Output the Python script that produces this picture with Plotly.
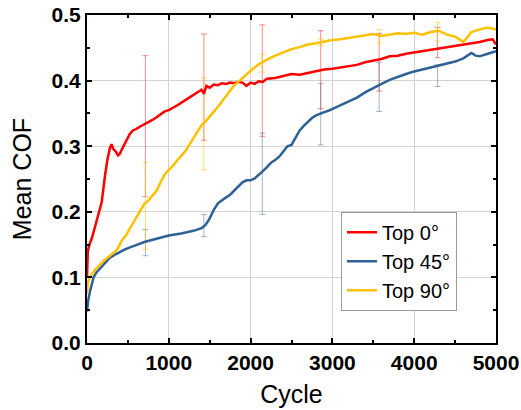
import plotly.graph_objects as go

# ---- data ----
red_x = [0, 10, 30, 60, 100, 140, 180, 220, 250, 280, 300, 320, 350, 380, 400, 430, 470, 520, 560, 600,
         650, 700, 750, 800, 850, 900, 950, 1000, 1050, 1100, 1150, 1200, 1250, 1300, 1350, 1400, 1430,
         1460, 1500, 1550, 1600, 1650, 1700, 1750, 1800, 1850, 1900, 1950, 2000, 2050, 2100, 2150, 2200,
         2300, 2400, 2500, 2600, 2700, 2800, 2900, 3000, 3100, 3200, 3300, 3400, 3500, 3600, 3700, 3800,
         3900, 4000, 4100, 4200, 4300, 4400, 4500, 4600, 4700, 4800, 4900, 4960, 5000]
red_y = [0.100, 0.140, 0.150, 0.160, 0.178, 0.195, 0.215, 0.255, 0.280, 0.297, 0.303, 0.296, 0.292, 0.286,
         0.288, 0.296, 0.307, 0.318, 0.324, 0.326, 0.330, 0.333, 0.336, 0.340, 0.344, 0.349, 0.353, 0.355,
         0.358, 0.362, 0.366, 0.370, 0.374, 0.379, 0.383, 0.386, 0.380, 0.392, 0.389, 0.394, 0.393, 0.396,
         0.395, 0.397, 0.396, 0.398, 0.397, 0.392, 0.397, 0.395, 0.399, 0.398, 0.403, 0.404, 0.407, 0.410,
         0.409, 0.412, 0.414, 0.417, 0.418, 0.420, 0.422, 0.424, 0.428, 0.430, 0.433, 0.437, 0.438, 0.441,
         0.443, 0.445, 0.446, 0.448, 0.451, 0.452, 0.454, 0.456, 0.459, 0.462, 0.463, 0.455]

blue_x = [0, 15, 37, 60, 80, 118, 200, 280, 362, 450, 550, 700, 850, 1000, 1150, 1300, 1400, 1450, 1500,
          1550, 1600, 1650, 1700, 1750, 1800, 1850, 1900, 1950, 2000, 2050, 2100, 2150, 2200, 2250, 2300,
          2350, 2400, 2450, 2500, 2550, 2600, 2650, 2700, 2750, 2800, 2850, 2900, 2950, 3000, 3100, 3200,
          3300, 3400, 3500, 3600, 3700, 3800, 3900, 4000, 4100, 4200, 4300, 4400, 4500, 4600, 4700, 4750,
          4800, 4900, 5000]
blue_y = [0.048, 0.065, 0.079, 0.092, 0.100, 0.108, 0.120, 0.130, 0.136, 0.142, 0.147, 0.154, 0.159, 0.164,
          0.167, 0.171, 0.175, 0.180, 0.190, 0.203, 0.213, 0.218, 0.222, 0.226, 0.232, 0.238, 0.245, 0.248,
          0.248, 0.251, 0.256, 0.262, 0.268, 0.275, 0.279, 0.284, 0.292, 0.300, 0.302, 0.314, 0.324, 0.331,
          0.337, 0.343, 0.347, 0.350, 0.352, 0.354, 0.357, 0.362, 0.368, 0.374, 0.382, 0.389, 0.395, 0.401,
          0.406, 0.410, 0.414, 0.417, 0.421, 0.424, 0.426, 0.429, 0.434, 0.442, 0.438, 0.437, 0.441, 0.445]

yellow_x = [0, 10, 50, 100, 150, 200, 250, 300, 360, 380, 420, 480, 540, 600, 650, 700, 750, 800, 850, 900,
            950, 1000, 1050, 1100, 1150, 1200, 1250, 1300, 1350, 1400, 1450, 1500, 1550, 1600, 1650, 1700,
            1750, 1800, 1850, 1900, 1950, 2000, 2050, 2100, 2150, 2200, 2300, 2400, 2500, 2600, 2700, 2800,
            2900, 3000, 3100, 3200, 3300, 3400, 3500, 3600, 3700, 3800, 3900, 4000, 4100, 4200, 4300, 4400,
            4500, 4550, 4600, 4650, 4700, 4800, 4900, 5000]
yellow_y = [0.075, 0.093, 0.103, 0.112, 0.118, 0.125, 0.130, 0.135, 0.141, 0.145, 0.155, 0.165, 0.178, 0.192,
            0.203, 0.212, 0.217, 0.225, 0.232, 0.245, 0.257, 0.264, 0.270, 0.278, 0.285, 0.292, 0.302, 0.312,
            0.322, 0.332, 0.338, 0.345, 0.352, 0.360, 0.368, 0.377, 0.385, 0.393, 0.398, 0.404, 0.410, 0.415,
            0.420, 0.425, 0.428, 0.432, 0.438, 0.443, 0.448, 0.451, 0.455, 0.457, 0.460, 0.462, 0.463, 0.465,
            0.468, 0.470, 0.471, 0.468, 0.470, 0.472, 0.471, 0.473, 0.470, 0.474, 0.476, 0.470, 0.467, 0.463,
            0.459, 0.466, 0.474, 0.478, 0.481, 0.478]

err_x = [714, 1429, 2143, 2857, 3571, 4286]
red_err_c = [0.333, 0.390, 0.400, 0.416, 0.428, 0.448]
red_err_hi = [0.438, 0.471, 0.485, 0.476, 0.472, 0.481]
red_err_lo = [0.223, 0.309, 0.315, 0.357, 0.384, 0.435]
yellow_err_c = [0.210, 0.334, 0.427, 0.458, 0.467, 0.475]
yellow_err_hi = [0.275, 0.404, 0.440, 0.463, 0.478, 0.489]
yellow_err_lo = [0.143, 0.264, 0.413, 0.453, 0.457, 0.460]
blue_err_c = [0.153, 0.179, 0.258, 0.349, 0.390, 0.412]
blue_err_hi = [0.173, 0.196, 0.320, 0.396, 0.428, 0.424]
blue_err_lo = [0.133, 0.162, 0.196, 0.302, 0.353, 0.391]

names = ["Top 0°", "Top 45°", "Top 90°"]
RED = "#FF0000"
BLUE = "#2E6096"
YEL = "#FFC000"
FONT = "Liberation Sans, Arial, sans-serif"

fig = go.Figure()

def err_trace(c, hi, lo, color):
    return go.Scatter(
        x=err_x, y=c, mode="markers", marker=dict(size=1, opacity=0),
        showlegend=False, hoverinfo="skip",
        error_y=dict(type="data", symmetric=False,
                     array=[h - v for h, v in zip(hi, c)],
                     arrayminus=[v - l for v, l in zip(c, lo)],
                     color=color, thickness=1, width=3))

fig.add_trace(err_trace(red_err_c, red_err_hi, red_err_lo, "rgba(255,0,0,0.45)"))
fig.add_trace(err_trace(blue_err_c, blue_err_hi, blue_err_lo, "rgba(46,96,150,0.45)"))
fig.add_trace(err_trace(yellow_err_c, yellow_err_hi, yellow_err_lo, "rgba(255,192,0,0.55)"))

fig.add_trace(go.Scatter(x=red_x, y=red_y, mode="lines", name=names[0], line=dict(color=RED, width=2.5)))
fig.add_trace(go.Scatter(x=blue_x, y=blue_y, mode="lines", name=names[1], line=dict(color=BLUE, width=2.5)))
fig.add_trace(go.Scatter(x=yellow_x, y=yellow_y, mode="lines", name=names[2], line=dict(color=YEL, width=2.5)))

tickfont = dict(family=FONT, size=21, color="black", weight="bold")
titlefont = dict(family=FONT, size=25, color="black")

fig.update_layout(
    width=521, height=410,
    margin=dict(l=87, r=25, t=15, b=67),
    paper_bgcolor="white", plot_bgcolor="white",
    font=dict(family=FONT, color="black"),
    legend=dict(x=0.621, y=0.40, xanchor="left", yanchor="top",
                bgcolor="white", bordercolor="#999999", borderwidth=1,
                font=dict(family=FONT, size=20, color="black"), tracegroupgap=0),
    xaxis=dict(range=[0, 5000], tickvals=[0, 1000, 2000, 3000, 4000, 5000], automargin=False,
               ticks="inside", ticklen=5, tickwidth=2, tickcolor="black",
               minor=dict(tickvals=[500, 1500, 2500, 3500, 4500], ticks="inside", ticklen=3,
                          tickwidth=2, tickcolor="black", showgrid=False),
               showline=True, linecolor="black", linewidth=2, mirror="allticks",
               showgrid=True, gridcolor="#D3D3D3", gridwidth=1, zeroline=False,
               tickfont=tickfont, title=dict(text="Cycle", font=titlefont, standoff=12)),
    yaxis=dict(range=[0, 0.5], tickvals=[0, 0.1, 0.2, 0.3, 0.4, 0.5], tickformat=".1f", automargin=False,
               ticks="inside", ticklen=5, tickwidth=2, tickcolor="black",
               minor=dict(tickvals=[0.05, 0.15, 0.25, 0.35, 0.45], ticks="inside", ticklen=3,
                          tickwidth=2, tickcolor="black", showgrid=False),
               showline=True, linecolor="black", linewidth=2, mirror="allticks",
               showgrid=True, gridcolor="#D3D3D3", gridwidth=1, zeroline=False,
               tickfont=tickfont, title=dict(text="Mean COF", font=titlefont, standoff=13)),
)

fig.write_html("out.html", config={"displayModeBar": False},
               post_script="document.body.style.margin='0';")
